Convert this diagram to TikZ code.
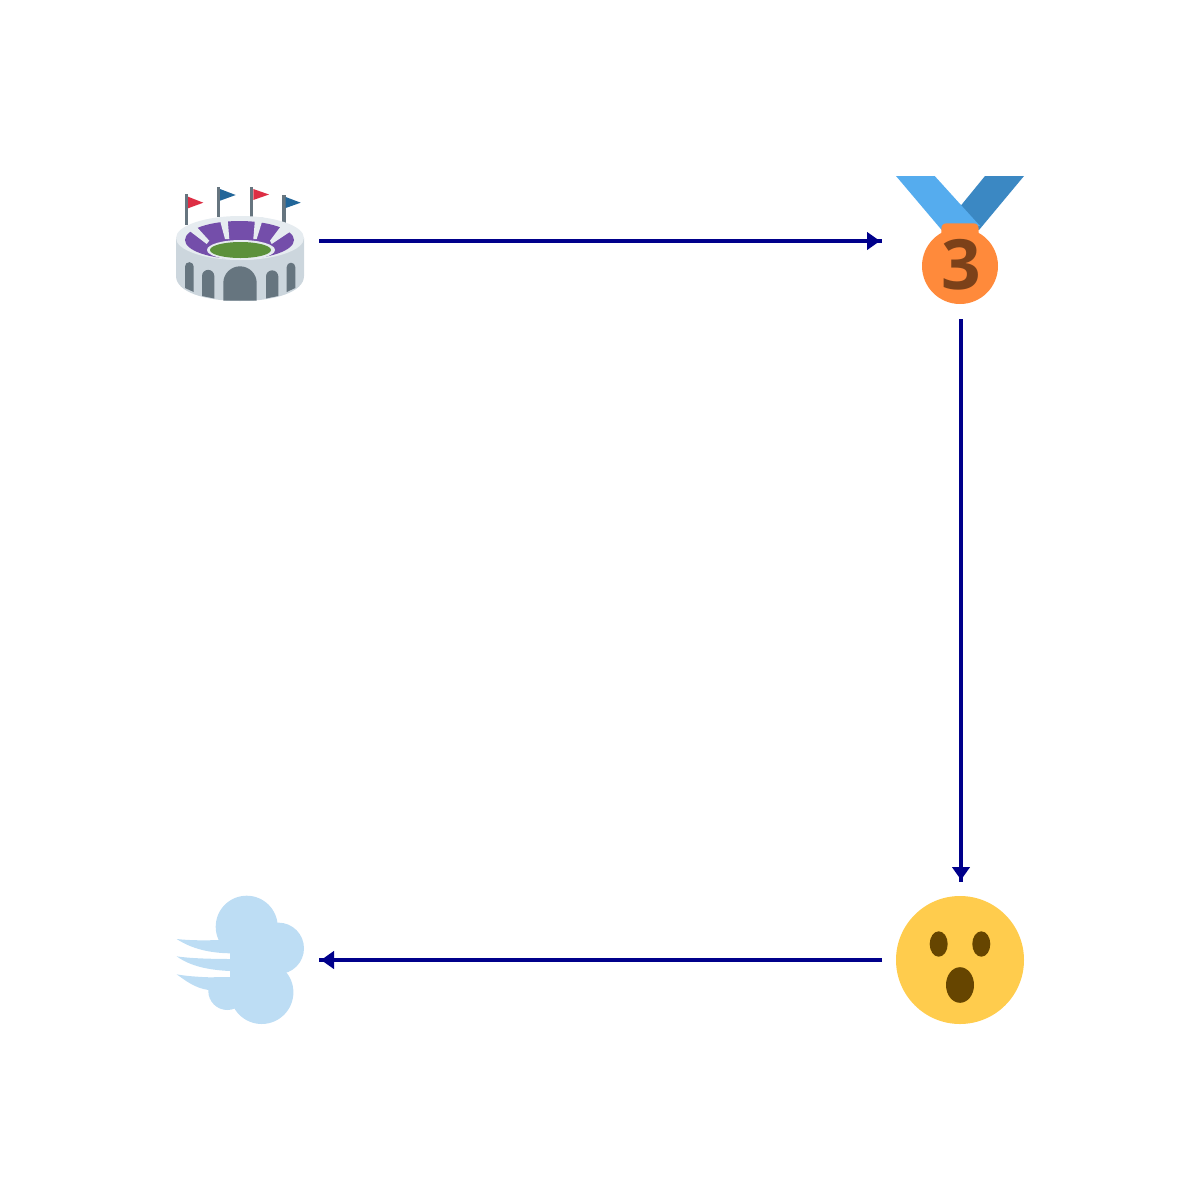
\documentclass[tikz,border=0pt]{standalone}
\usepackage{fontspec}
\usetikzlibrary{arrows.meta}
\newfontfamily\medalfont[Scale=1]{Open Sans}
\definecolor{flowblue}{HTML}{00008B}
\definecolor{seatgrey}{HTML}{CCD6DD}
\definecolor{rimgrey}{HTML}{E6ECF0}
\definecolor{archgrey}{HTML}{66757F}
\definecolor{seatpurple}{HTML}{744EAA}
\definecolor{fieldgreen}{HTML}{5C913B}
\definecolor{flagred}{HTML}{DD2E44}
\definecolor{flagblue}{HTML}{226699}
\definecolor{ribbonlight}{HTML}{55ACEE}
\definecolor{ribbondark}{HTML}{3B88C3}
\definecolor{bronze}{HTML}{FF8A3B}
\definecolor{bronzedark}{HTML}{7C4119}
\definecolor{dashblue}{HTML}{BDDDF4}
\definecolor{faceyellow}{HTML}{FFCC4D}
\definecolor{facebrown}{HTML}{664500}
\tikzset{
  every picture/.style={line width=0.75pt},
  iconbox/.style={inner sep=0pt,outer sep=0pt,minimum width=118.5pt,minimum height=117pt},
  flow/.style={draw=flowblue,fill=flowblue,line width=2.6pt,
    -{Triangle[length=9.75pt,width=13pt,sep=0pt]Rectangle[length=1.5pt,width=2.6pt]}},
}

\begin{document}
\begin{tikzpicture}[x=0.75pt,y=0.75pt,yscale=-1,xscale=1]
\useasboundingbox (0,0) rectangle (1200,1200);
% Icon boxes
\node [iconbox] (stadium) at (240,241) {};
\node [iconbox] (medal) at (961,241) {};
\node [iconbox] (face) at (961,960) {};
\node [iconbox] (dash) at (240,960) {};
%Shape: Stadium
\fill [archgrey] (185,194) rectangle (188.3,225);
\fill [archgrey] (216.7,186.7) rectangle (220,217);
\fill [archgrey] (250,186.7) rectangle (253.3,217);
\fill [archgrey] (282.3,195) rectangle (285.7,223);
\fill [flagred] (188,196.7) -- (203.3,202.7) -- (188,208.3) -- cycle;
\fill [flagblue] (220,189) -- (235.7,195) -- (220,200.7) -- cycle;
\fill [flagred] (253.3,189) -- (269,194.5) -- (253.3,200) -- cycle;
\fill [flagblue] (285.7,197) -- (300.7,202.7) -- (285.7,208) -- cycle;
\fill [seatgrey] (176,238) -- (176,276) .. controls (176,292) and (205,301) .. (240,301) .. controls (275,301) and (304,292) .. (304,276) -- (304,238) -- cycle;
\fill [rimgrey] (240,238) ellipse (64 and 22);
\fill [seatpurple] (239.5,240) ellipse (54.5 and 19);
\fill [rimgrey] (187,229) -- (195,225) -- (209.3,240.7) -- (206.7,244) -- cycle;
\fill [rimgrey] (219,217) -- (227.5,217) -- (229.3,239) -- (225,239) -- cycle;
\fill [rimgrey] (255.2,217) -- (263.5,217) -- (256.7,239) -- (253.3,239) -- cycle;
\fill [rimgrey] (281,226) -- (292,230.5) -- (271.7,244) -- (270,240.7) -- cycle;
\fill [rimgrey] (241,250) ellipse (34 and 10);
\fill [fieldgreen] (240.5,250) ellipse (30.5 and 8);
\fill [archgrey] (223.3,300.7) -- (223.3,283) arc (180:360:16.7) -- (256.7,300.7) -- cycle;
\fill [archgrey] (202,296) -- (202,276) arc (180:360:6.15) -- (214.3,298.5) -- cycle;
\fill [archgrey] (185,288) -- (185,266.5) arc (180:360:4.35) -- (193.7,292) -- cycle;
\fill [archgrey] (266,298.5) -- (266,276.5) arc (180:360:6.15) -- (278.3,296) -- cycle;
\fill [archgrey] (286.7,292) -- (286.7,267) arc (180:360:4.3) -- (295.3,288) -- cycle;
%Shape: Medal
\fill [ribbondark] (985,176) -- (1024,176) -- (979,230) -- (945,225) -- cycle;
\fill [ribbonlight] (896,176) -- (934.7,176) -- (980,226) -- (941.7,230) -- cycle;
\fill [bronze] (960,266) circle (38);
\fill [bronze] (941.3,240) -- (941.3,229) .. controls (941.3,225) and (943.5,223.3) .. (947,223.3) -- (973,223.3) .. controls (976.5,223.3) and (978.7,225) .. (978.7,229) -- (978.7,240) -- cycle;
\node [inner sep=0pt,text=bronzedark] (medalnum) at (961,264.5) {\medalfont\bfseries\fontsize{52}{52}\selectfont 3};
%Shape: Shocked face
\fill [faceyellow] (960,960) circle (64);
\fill [facebrown] (938.7,944) ellipse (9 and 12.7);
\fill [facebrown] (981.3,944) ellipse (9 and 12.7);
\fill [facebrown] (960,985) ellipse (14 and 17.8);
%Shape: Dash
\fill [dashblue] (246.7,926.7) circle (31);
\fill [dashblue] (278.3,948.3) circle (25.7);
\fill [dashblue] (261.7,992.3) circle (31.7);
\begin{scope}
\clip (200,977.7) rectangle (250,1015);
\fill [dashblue] (227.3,991) circle (19);
\end{scope}
\fill [dashblue] (230,935) rectangle (275,1000);
\fill [dashblue] (176.7,939) .. controls (190,940.5) and (205,940.5) .. (220,940) -- (231,940) -- (230,953.3) .. controls (210,953) and (192,949) .. cycle;
\fill [dashblue] (176.7,956.3) .. controls (190,958.5) and (215,959) .. (231,959) -- (230,971) .. controls (208,970) and (190,966) .. cycle;
\fill [dashblue] (176.7,974.3) .. controls (190,977) and (215,977.7) .. (231,977.7) -- (232,992) -- (208.3,990) .. controls (195,988) and (186,981) .. cycle;
% Connectors
\draw [flow] (stadium) -- (medal);
\draw [flow] (medal) -- (face);
\draw [flow] (face) -- (dash);
\end{tikzpicture}
\end{document}
